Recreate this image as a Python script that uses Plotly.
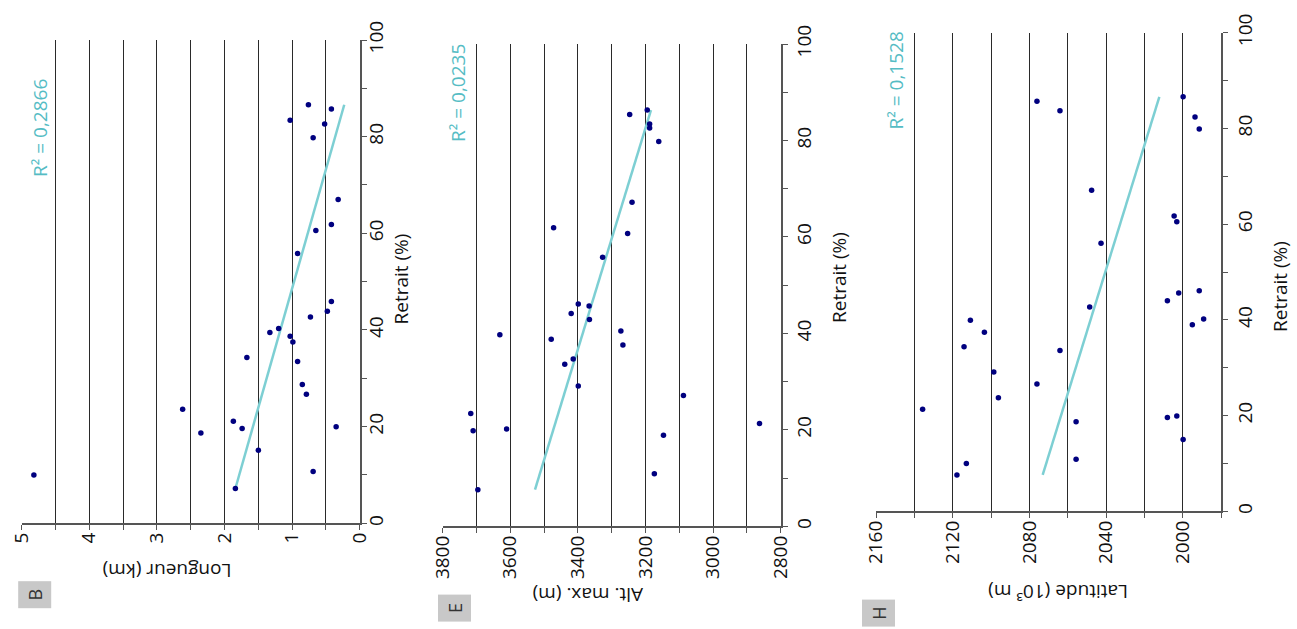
import plotly.graph_objects as go

W, H = 1297, 629

# ---------------- data ----------------
# Panel B : Longueur (km) vs Retrait (%)
retrait_B = [10.0, 7.2, 10.7, 15.1, 20.0, 18.7, 19.6, 21.1, 23.6, 26.7, 28.7, 34.3, 33.5, 37.5,
             38.7, 39.5, 40.3, 42.7, 43.9, 45.9, 55.8, 60.6, 61.8, 67.0, 79.8, 82.6, 83.4, 85.7, 86.6]
longueur_B = [4.82, 1.84, 0.69, 1.50, 0.35, 2.35, 1.74, 1.87, 2.62, 0.79, 0.85, 1.67, 0.92, 0.99,
              1.03, 1.33, 1.20, 0.73, 0.48, 0.42, 0.92, 0.65, 0.42, 0.32, 0.69, 0.52, 1.03, 0.42, 0.76]
trend_retrait_B = [7.2, 86.6]
trend_longueur_B = [1.84, 0.23]
r2_B = "R² = 0,2866"

# Panel E : Alt. max. (m) vs Retrait (%)
retrait_E = [7.6, 10.9, 18.9, 19.8, 20.2, 21.3, 23.4, 27.1, 29.1, 33.6, 34.7, 37.6, 38.8, 39.7,
             40.5, 42.9, 44.1, 45.7, 46.1, 55.8, 60.7, 61.9, 67.2, 79.8, 82.6, 83.4, 85.4, 86.3]
alt_E = [3696, 3174, 3147, 3710, 3611, 2863, 3717, 3088, 3399, 3439, 3414, 3267, 3479, 3631,
         3273, 3366, 3420, 3367, 3399, 3327, 3253, 3472, 3240, 3161, 3188, 3188, 3247, 3195]
trend_retrait_E = [7.6, 86.3]
trend_alt_E = [3527, 3184]
r2_E = "R² = 0,0235"

# Panel H : Latitude (10³ m) vs Retrait (%)
retrait_H = [7.6, 10.0, 10.9, 15.0, 18.7, 19.6, 19.9, 21.3, 23.7, 26.6, 29.1, 33.6, 34.4, 37.4, 39.0,
             39.9, 40.2, 42.7, 44.0, 45.6, 46.1, 56.0, 60.5, 61.7, 67.1, 79.9, 82.4, 83.7, 85.7, 86.6]
lat_H = [2117.8, 2112.9, 2055.7, 1999.9, 2055.7, 2008.1, 2003.2, 2135.7, 2096.2, 2076.1, 2098.6,
         2064.1, 2114.1, 2103.5, 1995.1, 2110.8, 1989.2, 2048.6, 2008.1, 2002.2, 1991.5, 2042.7,
         2003.2, 2004.6, 2047.6, 1991.5, 1993.7, 2064.1, 2076.1, 1999.9]
trend_retrait_H = [7.6, 86.6]
trend_lat_H = [2073.1, 2012.3]
r2_H = "R² = 0,1528"

panel_letters = ["B", "E", "H"]
value_titles = ["Longueur (km)", "Alt. max. (m)", "Latitude (10³ m)"]
retrait_title = "Retrait (%)"

# ---------------- styling ----------------
FONT = "Open Sans"
FS = 19
DOT = "#00007f"
TEAL_LINE = "#7dcfd3"
TEAL_TEXT = "#55bcc4"
GRID = "#2a2a2a"
AXIS = "#555555"


def fx(x):
    return x / W


def fy(y):
    return 1 - y / H


# pixel frames of the three panels: (x_left, x_right, y_top, y_bottom)
frames = [(21.7, 359.8, 40.0, 523.3), (442.7, 780.8, 44.0, 526.3), (876.0, 1221.3, 32.7, 511.3)]
ranges = [[5, 0], [3800, 2800], [2160, 1980]]
dticks = [1, 200, 40]
minors = [0.5, 100, 20]
ystandoff = [-6, 1, 1]

fig = go.Figure()

series = [
    (longueur_B, retrait_B, trend_longueur_B, trend_retrait_B),
    (alt_E, retrait_E, trend_alt_E, trend_retrait_E),
    (lat_H, retrait_H, trend_lat_H, trend_retrait_H),
]

for i, (vals, ret, tv, tr) in enumerate(series):
    sfx = "" if i == 0 else str(i + 1)
    fig.add_trace(go.Scatter(x=tv, y=tr, mode="lines", line=dict(color=TEAL_LINE, width=2.5),
                             xaxis="x" + sfx, yaxis="y" + sfx, hoverinfo="skip", cliponaxis=False))
    fig.add_trace(go.Scatter(x=vals, y=ret, mode="markers", cliponaxis=False,
                             marker=dict(color=DOT, size=5.5, line=dict(width=0)),
                             xaxis="x" + sfx, yaxis="y" + sfx))

layout = dict(
    width=W, height=H, margin=dict(l=0, r=0, t=0, b=0, pad=0, autoexpand=False),
    paper_bgcolor="white", plot_bgcolor="white", showlegend=False,
    font=dict(family=FONT, size=FS, color="#111111"),
)

for i in range(3):
    xl, xr, yt, yb = frames[i]
    sfx = "" if i == 0 else str(i + 1)
    layout["xaxis" + sfx] = dict(
        domain=[fx(xl), fx(xr)], range=ranges[i], anchor="y" + sfx, automargin=False,
        dtick=dticks[i], tick0=0, ticks="outside", ticklen=5, tickwidth=1.3, tickcolor=AXIS,
        tickangle=-90, ticklabelstandoff=-5,
        showgrid=True, gridcolor=GRID, gridwidth=1,
        minor=dict(dtick=minors[i], tick0=0, ticks="outside", ticklen=5, tickwidth=1.3, tickcolor=AXIS,
                   showgrid=True, gridcolor=GRID, gridwidth=1),
        showline=True, linecolor=AXIS, linewidth=1.5, zeroline=False,
        tickfont=dict(family=FONT, size=FS, color="#111111"),
    )
    layout["yaxis" + sfx] = dict(
        domain=[fy(yb), fy(yt)], range=[0, 100], anchor="x" + sfx, side="right", automargin=False,
        dtick=20, tick0=0, ticks="outside", ticklen=5, tickwidth=1.3, tickcolor=AXIS,
        tickangle=-90, ticklabelstandoff=ystandoff[i],
        showgrid=False, zeroline=False,
        minor=dict(dtick=10, ticks="outside", ticklen=5, tickwidth=1.3, tickcolor=AXIS, showgrid=False),
        showline=True, linecolor=AXIS, linewidth=1.5,
        tickfont=dict(family=FONT, size=FS, color="#111111"),
    )

fig.update_layout(**layout)

ann = []
# R² labels
for txt, (cx, cy) in zip([r2_B, r2_E, r2_H], [(40, 128), (458, 93), (895, 80.5)]):
    ann.append(dict(text=txt, x=fx(cx), y=fy(cy), xref="paper", yref="paper", showarrow=False,
                    textangle=-90, xanchor="center", yanchor="middle",
                    font=dict(family=FONT, size=FS, color=TEAL_TEXT)))
# value-axis titles (upside down)
for txt, (cx, cy) in zip(value_titles, [(166.7, 571), (588, 595), (1058, 592)]):
    ann.append(dict(text=txt, x=fx(cx), y=fy(cy), xref="paper", yref="paper", showarrow=False,
                    textangle=180, xanchor="center", yanchor="middle",
                    font=dict(family=FONT, size=FS, color="#111111")))
# Retrait titles
for (cx, cy) in [(400.5, 279), (839, 278), (1280, 287)]:
    ann.append(dict(text=retrait_title, x=fx(cx), y=fy(cy), xref="paper", yref="paper", showarrow=False,
                    textangle=-90, xanchor="center", yanchor="middle",
                    font=dict(family=FONT, size=FS, color="#111111")))
# panel letters in grey boxes
for txt, (cx, cy) in zip(panel_letters, [(34.2, 594.5), (454.8, 608.3), (878.8, 613.3)]):
    ann.append(dict(text=txt, x=fx(cx), y=fy(cy), xref="paper", yref="paper", showarrow=False,
                    textangle=-90, xanchor="center", yanchor="middle", width=24, height=30,
                    bgcolor="#c8c8c8", borderpad=1,
                    font=dict(family=FONT, size=18, color="#333333")))

fig.update_layout(annotations=ann)

fig.write_html("out.html", config={"displayModeBar": False},
               post_script="document.body.style.margin='0px';document.body.style.padding='0px';")
